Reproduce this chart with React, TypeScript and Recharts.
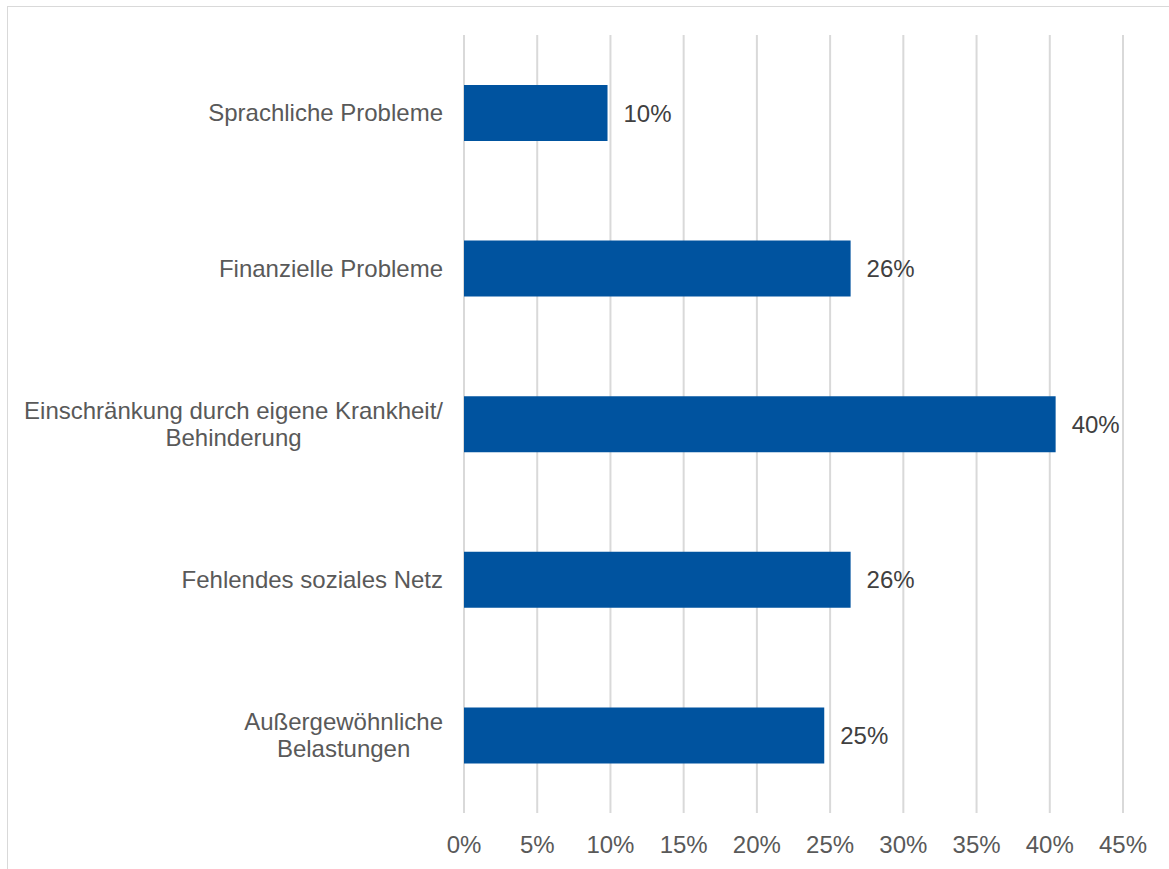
import { BarChart, Bar, XAxis, YAxis, CartesianGrid, LabelList } from 'recharts';

const categories = [
  'Sprachliche Probleme',
  'Finanzielle Probleme',
  'Einschränkung durch eigene Krankheit/\nBehinderung',
  'Fehlendes soziales Netz',
  'Außergewöhnliche\nBelastungen',
];
const shares = [9.8, 26.4, 40.4, 26.4, 24.6];
const xTicks = [0, 5, 10, 15, 20, 25, 30, 35, 40, 45];

const data = categories.map((name, i) => ({ name, value: shares[i] }));

const FONT = '"Liberation Sans", Arial, sans-serif';

let ctx: CanvasRenderingContext2D | null = null;
function measure(text: string) {
  if (!ctx) ctx = document.createElement('canvas').getContext('2d');
  if (!ctx) return text.length * 12;
  ctx.font = `24px ${FONT}`;
  return ctx.measureText(text).width;
}

function CategoryTick(props: any) {
  const { x, y, payload } = props;
  const lines: string[] = String(payload.value).split('\n');
  const w = Math.max(...lines.map(measure));
  const cx = x - w / 2;
  const lh = 27;
  const start = y - ((lines.length - 1) * lh) / 2;
  return (
    <g>
      {lines.map((l, i) => (
        <text
          key={i}
          x={cx}
          y={start + i * lh}
          textAnchor="middle"
          dominantBaseline="central"
          fontSize={24}
          fontFamily={FONT}
          fill="#595959"
        >
          {l}
        </text>
      ))}
    </g>
  );
}

export default function App() {
  return (
    <div style={{ position: 'fixed', left: 0, top: 0, width: 1169, height: 869, overflow: 'hidden', background: '#fff' }}>
      <div
        style={{
          position: 'absolute',
          left: 7,
          top: 6,
          width: 1200,
          height: 900,
          border: '1.5px solid #d9d9d9',
        }}
      />
      <div style={{ position: 'absolute', left: 0, top: 0 }}>
        <BarChart
          width={1169}
          height={869}
          data={data}
          layout="vertical"
          margin={{ top: 35, right: 46, left: 0, bottom: 0 }}
          barCategoryGap={0}
        >
          <CartesianGrid horizontal={false} stroke="#d9d9d9" strokeWidth={2} />
          <XAxis
            type="number"
            domain={[0, 45]}
            ticks={xTicks}
            tickFormatter={(v) => `${v}%`}
            axisLine={false}
            tickLine={false}
            tickSize={0}
            tickMargin={23}
            height={56}
            interval={0}
            tick={{ fontSize: 24, fill: '#595959', fontFamily: FONT }}
          />
          <YAxis
            type="category"
            dataKey="name"
            width={464}
            axisLine={false}
            tickLine={false}
            tickSize={0}
            tickMargin={21}
            interval={0}
            tick={<CategoryTick />}
          />
          <Bar dataKey="value" fill="#00539F" barSize={56} isAnimationActive={false}>
            <LabelList
              dataKey="value"
              position="right"
              offset={16}
              formatter={(v: any) => `${Math.round(Number(v))}%`}
              style={{ fontSize: 24, fill: '#404040', fontFamily: FONT }}
            />
          </Bar>
        </BarChart>
      </div>
    </div>
  );
}
